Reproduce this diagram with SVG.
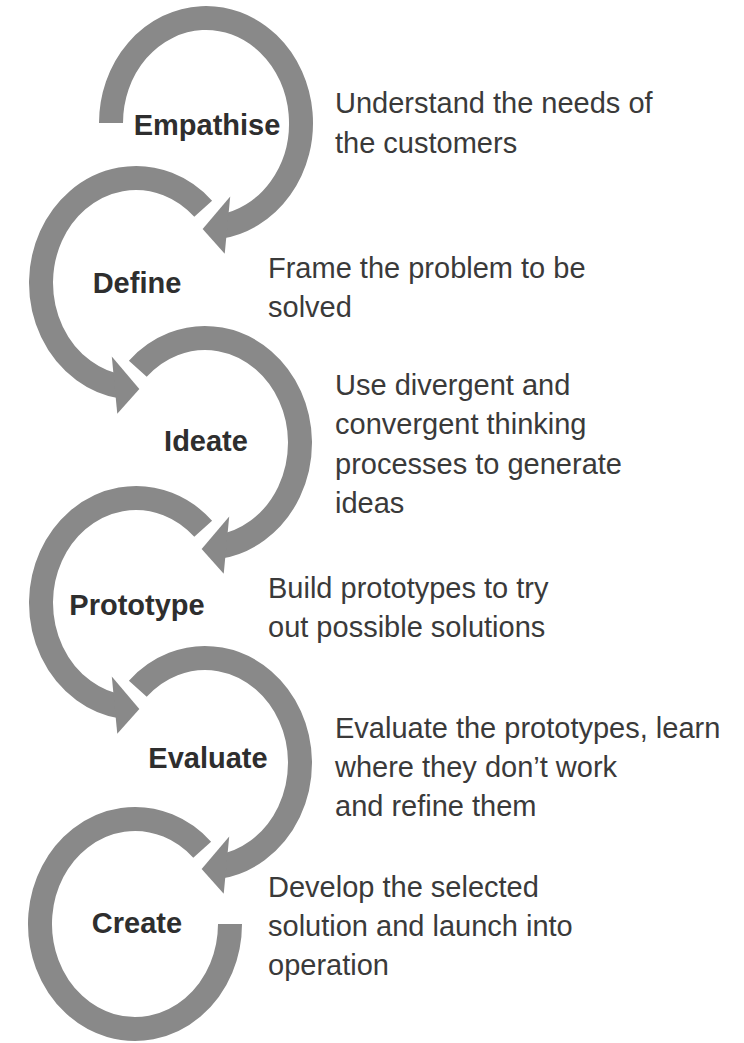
<svg xmlns="http://www.w3.org/2000/svg" width="744" height="1043" viewBox="0 0 744 1043">
  <style>
    .ring { fill: none; stroke: #898989; stroke-width: 24; stroke-linecap: butt; }
    .head { fill: #898989; stroke: none; }
    .label { font-family: "Liberation Sans", Arial, sans-serif; font-size: 29px; font-weight: bold; fill: #2e2e2e; text-anchor: middle; }
    .desc { font-family: "Liberation Sans", Arial, sans-serif; font-size: 29px; fill: #3a3a3a; }
  </style>
  <rect width="744" height="1043" fill="#ffffff"/>

  <!-- curved arrows linking the stages -->
  <g id="connectors">
    <path class="ring" d="M111,123 A95,105 0 1 1 219.22,226.98"/>
    <polygon class="head" points="230.21,196.51 202.65,228.99 224.72,253.67"/>

    <path class="ring" d="M203.18,208.75 A95,105 0 1 0 122.78,386.98"/>
    <polygon class="head" points="111.79,356.51 139.35,388.99 117.28,413.67"/>

    <path class="ring" d="M137.82,368.75 A95,105 0 1 1 218.22,546.98"/>
    <polygon class="head" points="229.21,516.51 201.65,548.99 223.72,573.67"/>

    <path class="ring" d="M203.18,528.75 A95,105 0 1 0 122.78,706.98"/>
    <polygon class="head" points="111.79,676.51 139.35,708.99 117.28,733.67"/>

    <path class="ring" d="M137.82,688.75 A95,105 0 1 1 218.22,866.98"/>
    <polygon class="head" points="229.21,836.51 201.65,868.99 223.72,893.67"/>

    <path class="ring" d="M202.18,849.75 A95,105 0 1 0 230,924"/>
  </g>

  <g id="empathise">
    <text class="label" x="207" y="135">Empathise</text>
    <text class="desc" x="335" y="113">Understand the needs of</text>
    <text class="desc" x="335" y="153">the customers</text>
  </g>

  <g id="define">
    <text class="label" x="137" y="293">Define</text>
    <text class="desc" x="268" y="278">Frame the problem to be</text>
    <text class="desc" x="268" y="317">solved</text>
  </g>

  <g id="ideate">
    <text class="label" x="206" y="451">Ideate</text>
    <text class="desc" x="335" y="395">Use divergent and</text>
    <text class="desc" x="335" y="434">convergent thinking</text>
    <text class="desc" x="335" y="474">processes to generate</text>
    <text class="desc" x="335" y="513">ideas</text>
  </g>

  <g id="prototype">
    <text class="label" x="137" y="615">Prototype</text>
    <text class="desc" x="268" y="598">Build prototypes to try</text>
    <text class="desc" x="268" y="637">out possible solutions</text>
  </g>

  <g id="evaluate">
    <text class="label" x="208" y="768">Evaluate</text>
    <text class="desc" x="335" y="738">Evaluate the prototypes, learn</text>
    <text class="desc" x="335" y="777">where they don’t work</text>
    <text class="desc" x="335" y="816">and refine them</text>
  </g>

  <g id="create">
    <text class="label" x="137" y="933">Create</text>
    <text class="desc" x="268" y="897">Develop the selected</text>
    <text class="desc" x="268" y="936">solution and launch into</text>
    <text class="desc" x="268" y="975">operation</text>
  </g>
</svg>
